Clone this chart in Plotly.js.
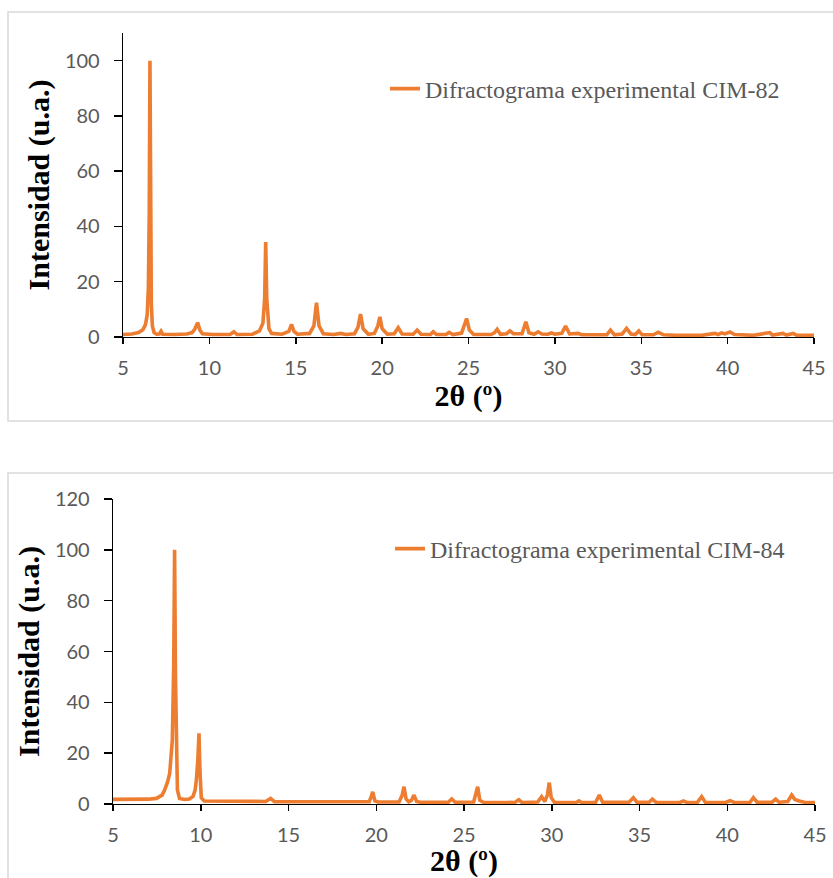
<!DOCTYPE html>
<html>
<head>
<meta charset="utf-8">
<script src="https://cdn.plot.ly/plotly-3.0.1.min.js"></script>
<style>
  html, body { margin: 0; padding: 0; background: #ffffff; }
  #chart { width: 833px; height: 878px; }
</style>
</head>
<body>
<div id="chart"></div>
<script>
// ---- Data ----
// CIM-82 diffractogram (2θ in degrees, intensity in a.u.)
var x82 = [5.0, 5.5, 5.9, 6.15, 6.3, 6.4, 6.47, 6.52, 6.56, 6.6, 6.64, 6.7, 6.8, 6.95, 7.1, 7.2, 7.3, 8.0,
  8.7, 9.0, 9.15, 9.32, 9.45, 9.6, 10.2, 11.2, 11.42, 11.6, 12.5, 12.9, 13.1, 13.2, 13.26, 13.32, 13.45, 13.6,
  14.2, 14.6, 14.76, 14.9, 15.1, 15.8, 16.05, 16.2, 16.35, 16.6, 17.2, 17.6, 17.9, 18.4, 18.6, 18.75, 18.9,
  19.2, 19.55, 19.75, 19.87, 20.0, 20.3, 20.7, 20.93, 21.15, 21.8, 22.03, 22.25, 22.8, 22.96, 23.15, 23.7,
  23.88, 24.1, 24.6, 24.78, 24.89, 25.05, 25.3, 26.3, 26.5, 26.66, 26.85, 27.2, 27.4, 27.6, 28.1, 28.32,
  28.5, 28.8, 29.03, 29.25, 29.6, 29.8, 30.0, 30.4, 30.62, 30.85, 31.35, 31.55, 33.0, 33.22, 33.45, 33.9,
  34.15, 34.4, 34.65, 34.86, 35.05, 35.7, 35.98, 36.3, 37.0, 38.5, 39.26, 39.45, 39.65, 39.85, 40.13, 40.4,
  41.5, 42.44, 42.6, 43.2, 43.4, 43.8, 44.0, 45.0];
var y82 = [0.9, 1.1, 1.6, 2.6, 4.5, 8, 18, 45, 100, 45, 12, 4, 1.6, 1.0, 1.1, 2.1, 1.0, 0.9,
  1.1, 1.6, 2.8, 5.2, 2.5, 1.2, 0.9, 0.9, 1.9, 0.9, 1.0, 2.2, 5, 14, 34.4, 14, 3, 1.3,
  1.0, 2.0, 4.6, 2.0, 1.0, 1.3, 4, 12.4, 4, 1.2, 0.9, 1.3, 0.9, 1.2, 3.5, 8.3, 3,
  1.0, 1.3, 4, 7.3, 3, 1.0, 1.2, 3.4, 1.1, 1.0, 2.5, 1.0, 0.9, 1.9, 0.9, 0.9,
  1.7, 0.9, 1.4, 4.5, 6.7, 2.5, 0.9, 0.9, 1.5, 2.8, 1.0, 1.2, 2.2, 1.2, 1.2, 5.5,
  1.5, 1.0, 1.9, 1.1, 1.0, 1.5, 1.0, 1.3, 4.0, 1.1, 1.3, 0.8, 0.8, 2.5, 0.8, 1.1,
  3.1, 1.1, 0.9, 2.2, 0.8, 0.8, 1.7, 0.8, 0.6, 0.6, 1.3, 0.9, 1.5, 1.1, 1.8, 0.9,
  0.6, 1.6, 0.7, 1.3, 0.7, 1.3, 0.6, 0.6];

// CIM-84 diffractogram
var x84 = [5.0, 6.0, 7.0, 7.47, 7.8, 7.94, 8.1, 8.23, 8.38, 8.46, 8.51, 8.56, 8.62, 8.67, 8.79, 9.08, 9.35,
  9.56, 9.68, 9.75, 9.83, 9.9, 9.95, 10.03, 10.2, 11.0, 12.0, 13.7, 13.98, 14.2, 16.0, 18.0, 19.6, 19.72,
  19.8, 19.92, 20.1, 21.3, 21.48, 21.58, 21.7, 21.85, 22.0, 22.15, 22.3, 22.5, 24.1, 24.3, 24.5, 25.55,
  25.7, 25.78, 25.9, 26.1, 27.9, 28.12, 28.3, 29.2, 29.42, 29.6, 29.75, 29.86, 29.97, 30.15, 31.4, 31.55,
  31.7, 32.5, 32.71, 32.9, 34.4, 34.65, 34.85, 35.55, 35.73, 35.95, 37.3, 37.5, 37.7, 38.3, 38.54, 38.75,
  39.9, 40.16, 40.4, 41.3, 41.49, 41.7, 42.55, 42.76, 42.95, 43.45, 43.67, 43.85, 44.1, 44.4, 45.0];
var y84 = [1.8, 1.8, 1.9, 2.2, 3.5, 5.5, 8.5, 12, 25, 55, 100, 50, 15, 5.5, 2.2, 1.8, 2.0,
  3.0, 5.5, 9.4, 17, 27.8, 14, 2.5, 1.2, 1.1, 1.0, 1.0, 2.2, 0.9, 0.9, 0.8, 0.9, 3,
  4.8, 1.2, 0.8, 0.8, 3.5, 6.8, 2.0, 0.9, 1.4, 3.5, 1.0, 0.7, 0.7, 2.0, 0.7, 0.8,
  4, 6.8, 1.5, 0.7, 0.6, 1.7, 0.6, 0.8, 2.9, 1.0, 3.5, 8.4, 2.5, 0.7, 0.6, 1.2,
  0.6, 0.7, 3.5, 0.7, 0.7, 2.5, 0.7, 0.7, 1.9, 0.6, 0.6, 1.2, 0.6, 0.7, 2.9, 0.7,
  0.6, 1.3, 0.6, 0.7, 2.5, 0.7, 0.7, 1.9, 0.7, 1.0, 3.5, 1.8, 1.2, 0.7, 0.6];

var name82 = "Difractograma experimental CIM-82";
var name84 = "Difractograma experimental CIM-84";
var xTitle = "2θ (º)";
var yTitle = "Intensidad (u.a.)";
var xRange = [5, 45];
var yRange82 = [0, 110];
var yRange84 = [0, 120];

// ---- Styling ----
var orange = "#ED7D31";
var tickFont = { family: "Lato, 'Open Sans', sans-serif", size: 20, color: "#595959" };
var titleFont = { family: "'Liberation Serif', 'Times New Roman', serif", size: 30, color: "#000000", weight: "bold" };
var legendFont = { family: "'Liberation Serif', 'Times New Roman', serif", size: 24, color: "#595959" };

function xAxis(domain, anchor) {
  return {
    domain: domain, anchor: anchor, range: xRange, tick0: 5, dtick: 5,
    showline: true, linecolor: "#000000", linewidth: 1.3, mirror: false,
    ticks: "outside", ticklen: 6, tickwidth: 1.5, tickcolor: "#000000",
    tickfont: tickFont, ticklabelstandoff: 7,
    showgrid: false, zeroline: false, fixedrange: true,
    title: { text: xTitle, font: titleFont, standoff: 5 }
  };
}
function yAxis(domain, anchor, range) {
  return {
    domain: domain, anchor: anchor, range: range, tick0: 0, dtick: 20,
    showline: true, linecolor: "#000000", linewidth: 1.3,
    ticks: "outside", ticklen: 8, tickwidth: 1.5, tickcolor: "#000000",
    tickfont: tickFont, ticklabelstandoff: 10,
    showgrid: false, zeroline: false, fixedrange: true,
    title: { text: yTitle, font: titleFont, standoff: 6 }
  };
}

var W = 833, H = 878;
function px(x) { return x / W; }
function py(y) { return 1 - y / H; }

var traces = [
  { x: x82, y: y82, type: "scatter", mode: "lines", name: name82,
    line: { color: orange, width: 3.6 }, xaxis: "x", yaxis: "y", legend: "legend", hoverinfo: "x+y" },
  { x: x84, y: y84, type: "scatter", mode: "lines", name: name84,
    line: { color: orange, width: 3.6 }, xaxis: "x2", yaxis: "y2", legend: "legend2", hoverinfo: "x+y" }
];

var layout = {
  width: W, height: H,
  margin: { l: 0, r: 0, t: 0, b: 0 },
  paper_bgcolor: "#ffffff", plot_bgcolor: "rgba(0,0,0,0)",
  showlegend: true,
  xaxis: xAxis([px(123), px(814)], "y"),
  yaxis: yAxis([py(337), py(33)], "x", yRange82),
  xaxis2: xAxis([px(113), px(815)], "y2"),
  yaxis2: yAxis([py(804), py(499)], "x2", yRange84),
  legend: { x: px(385), y: py(89), xanchor: "left", yanchor: "middle",
    bgcolor: "rgba(0,0,0,0)", borderwidth: 0, font: legendFont },
  legend2: { x: px(390), y: py(549), xanchor: "left", yanchor: "middle",
    bgcolor: "rgba(0,0,0,0)", borderwidth: 0, font: legendFont },
  shapes: [
    { type: "rect", xref: "paper", yref: "paper", x0: px(8), x1: 1.02, y0: py(421), y1: py(12),
      line: { color: "#D9D9D9", width: 1.5 }, fillcolor: "rgba(0,0,0,0)", layer: "below" },
    { type: "rect", xref: "paper", yref: "paper", x0: px(8), x1: 1.02, y0: -0.02, y1: py(473),
      line: { color: "#D9D9D9", width: 1.5 }, fillcolor: "rgba(0,0,0,0)", layer: "below" }
  ]
};

Plotly.newPlot("chart", traces, layout, { displayModeBar: false, staticPlot: true });
</script>
</body>
</html>
